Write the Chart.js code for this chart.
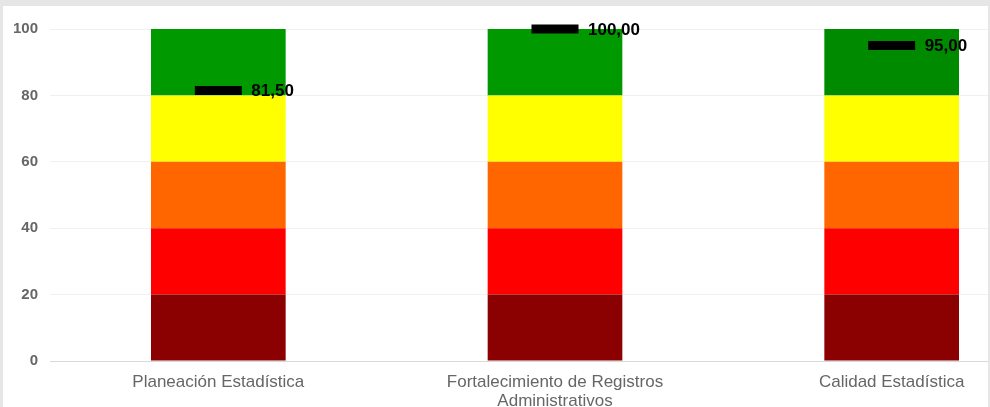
<!DOCTYPE html>
<html>
<head>
<meta charset="utf-8">
<script src="https://cdn.jsdelivr.net/npm/chart.js@4"></script>
<style>
  body { margin: 0; background: #e6e6e6; }
  #frame { position: relative; width: 990px; height: 407px; background: #e6e6e6; overflow: hidden; }
  #inner { position: absolute; left: 3px; top: 6px; width: 985px; height: 401px; background: #fff; overflow: hidden; }
  #wrap { position: absolute; left: 0; top: 0; width: 1057px; height: 420px; }
</style>
</head>
<body>
<div id="frame"><div id="inner"><div id="wrap"><canvas id="chartCanvas"></canvas></div></div></div>
<script>
const categories = [
  "Planeación Estadística",
  ["Fortalecimiento de Registros", "Administrativos"],
  "Calidad Estadística",
];
const scores = [81.5, 100, 95];
const band1 = [20, 20, 20];
const band2 = [20, 20, 20];
const band3 = [20, 20, 20];
const band4 = [20, 20, 20];
const band5 = [20, 20, 20];
const yTicks = [0, 20, 40, 60, 80, 100];

const font = "'Liberation Sans', Arial, sans-serif";

const scoreLabels = {
  id: "scoreLabels",
  afterDatasetsDraw(chart) {
    const ctx = chart.ctx;
    const meta = chart.getDatasetMeta(5);
    ctx.save();
    ctx.font = "bold 17px " + font;
    ctx.fillStyle = "#000";
    ctx.textBaseline = "middle";
    meta.data.forEach((pt, i) => {
      ctx.fillText(scores[i].toFixed(2).replace(".", ","), pt.x + 33, pt.y + 1);
    });
    ctx.restore();
  },
};

function band(data, color) {
  return {
    type: "bar",
    data: data,
    backgroundColor: color,
    borderWidth: 0,
    stack: "zones",
    barPercentage: 0.4,
    categoryPercentage: 1,
    order: 1,
  };
}

const ctxChart = document.getElementById("chartCanvas").getContext("2d");
const chart = new Chart(ctxChart, {
  data: {
    labels: categories,
    datasets: [
      band(band1, "#8b0000"),
      band(band2, "#ff0000"),
      band(band3, "#ff6600"),
      band(band4, "#ffff00"),
      band(band5, ["#009900", "#009900", "#008a00"]),
      {
        type: "line",
        data: scores,
        stack: "marker",
        order: 0,
        showLine: false,
        pointStyle: "line",
        pointRadius: 23.5,
        pointBorderWidth: 9,
        pointBorderColor: "#000",
        pointBackgroundColor: "#000",
        clip: false,
      },
    ],
  },
  options: {
    responsive: true,
    maintainAspectRatio: false,
    animation: false,
    layout: { autoPadding: false, padding: { top: 23, right: 0, left: 0, bottom: 0 } },
    plugins: { legend: { display: false }, tooltip: { enabled: false } },
    scales: {
      x: {
        stacked: true,
        grid: { display: false },
        border: { display: false },
        ticks: { color: "#666", font: { family: font, size: 17, lineHeight: 1.1 }, padding: 4, maxRotation: 0 },
        afterFit: (s) => { s.height = 65; },
      },
      y: {
        stacked: true,
        min: 0,
        max: 100,
        afterBuildTicks: (s) => { s.ticks = yTicks.map((v) => ({ value: v })); },
        grid: {
          drawTicks: false,
          color: (c) => (c.tick && c.tick.value === 0 ? "#d9d9d9" : "#f0f0f0"),
        },
        border: { display: false },
        ticks: { color: "#666", font: { family: font, size: 15, weight: "bold" }, padding: 12 },
        afterFit: (s) => { s.width = 47; },
      },
    },
  },
  plugins: [scoreLabels],
});
</script>
</body>
</html>
